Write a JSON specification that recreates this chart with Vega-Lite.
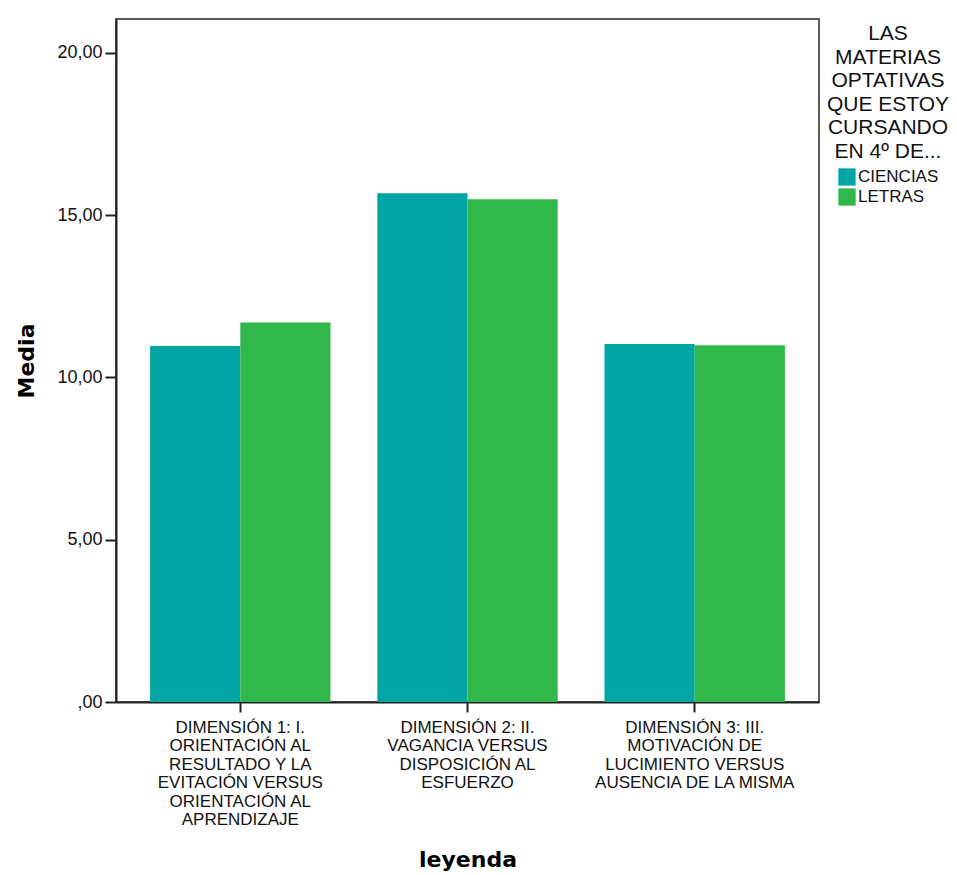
{
  "$schema": "https://vega.github.io/schema/vega-lite/v6.json",
  "width": 703,
  "height": 683,
  "autosize": {"type": "none"},
  "padding": {"left": 116, "top": 19, "right": 138, "bottom": 173},
  "background": "white",
  "config": {
    "view": {"stroke": "#5a5a5a", "strokeWidth": 2},
    "font": "Liberation Sans"
  },
  "data": {
    "values": [
      {"dimension": "DIMENSIÓN 1: I. ORIENTACIÓN AL RESULTADO Y LA EVITACIÓN VERSUS ORIENTACIÓN AL APRENDIZAJE", "grupo": "CIENCIAS", "media": 10.97},
      {"dimension": "DIMENSIÓN 1: I. ORIENTACIÓN AL RESULTADO Y LA EVITACIÓN VERSUS ORIENTACIÓN AL APRENDIZAJE", "grupo": "LETRAS", "media": 11.69},
      {"dimension": "DIMENSIÓN 2: II. VAGANCIA VERSUS DISPOSICIÓN AL ESFUERZO", "grupo": "CIENCIAS", "media": 15.67},
      {"dimension": "DIMENSIÓN 2: II. VAGANCIA VERSUS DISPOSICIÓN AL ESFUERZO", "grupo": "LETRAS", "media": 15.49},
      {"dimension": "DIMENSIÓN 3: III. MOTIVACIÓN DE LUCIMIENTO VERSUS AUSENCIA DE LA MISMA", "grupo": "CIENCIAS", "media": 11.03},
      {"dimension": "DIMENSIÓN 3: III. MOTIVACIÓN DE LUCIMIENTO VERSUS AUSENCIA DE LA MISMA", "grupo": "LETRAS", "media": 10.99}
    ]
  },
  "mark": {"type": "bar"},
  "encoding": {
    "x": {
      "field": "dimension",
      "type": "nominal",
      "sort": null,
      "scale": {"paddingInner": 0.206, "paddingOuter": 0.15},
      "axis": {
        "title": "leyenda",
        "titleFont": "DejaVu Sans",
        "titleFontWeight": "bold",
        "titleFontSize": 22,
        "titleColor": "#000",
        "titlePadding": 22,
        "labelAngle": 0,
        "labelFontSize": 17,
        "labelColor": "#111",
        "labelLineHeight": 18.5,
        "labelLimit": 400,
        "labelPadding": 7,
        "labelExpr": "substring(datum.label, 0, 11) == 'DIMENSIÓN 1' ? ['DIMENSIÓN 1: I.', 'ORIENTACIÓN AL', 'RESULTADO Y LA', 'EVITACIÓN VERSUS', 'ORIENTACIÓN AL', 'APRENDIZAJE'] : substring(datum.label, 0, 11) == 'DIMENSIÓN 2' ? ['DIMENSIÓN 2: II.', 'VAGANCIA VERSUS', 'DISPOSICIÓN AL', 'ESFUERZO'] : ['DIMENSIÓN 3: III.', 'MOTIVACIÓN DE', 'LUCIMIENTO VERSUS', 'AUSENCIA DE LA MISMA']",
        "domainColor": "#222",
        "domainWidth": 2,
        "tickColor": "#222",
        "tickWidth": 2,
        "tickSize": 10
      }
    },
    "xOffset": {
      "field": "grupo",
      "type": "nominal",
      "scale": {"paddingInner": 0, "paddingOuter": 0}
    },
    "y": {
      "field": "media",
      "type": "quantitative",
      "scale": {"domain": [0, 21.04], "nice": false, "zero": true},
      "axis": {
        "title": "Media",
        "titleFont": "DejaVu Sans",
        "titleFontWeight": "bold",
        "titleFontSize": 22,
        "titleColor": "#000",
        "titlePadding": 18,
        "values": [0, 5, 10, 15, 20],
        "labelExpr": "datum.value == 0 ? ',00' : replace(format(datum.value, '.2f'), '.', ',')",
        "labelFontSize": 18,
        "labelColor": "#111",
        "labelPadding": 3,
        "grid": false,
        "domainColor": "#222",
        "domainWidth": 2,
        "tickColor": "#222",
        "tickWidth": 2,
        "tickSize": 11
      }
    },
    "color": {
      "field": "grupo",
      "type": "nominal",
      "scale": {"domain": ["CIENCIAS", "LETRAS"], "range": ["#01a6a4", "#31b84a"]},
      "legend": {
        "title": ["LAS", "MATERIAS", "OPTATIVAS", "QUE ESTOY", "CURSANDO", "EN 4º DE..."],
        "titleFont": "Liberation Sans",
        "titleFontWeight": "normal",
        "titleFontSize": 21,
        "titleLineHeight": 23.6,
        "titleColor": "#111",
        "titleAlign": "center",
        "titleAnchor": "middle",
        "titlePadding": 6,
        "titleLimit": 300,
        "orient": "right",
        "offset": 4,
        "padding": 4,
        "symbolType": "square",
        "symbolSize": 300,
        "symbolStrokeWidth": 0,
        "symbolOpacity": 1,
        "symbolOffset": 0,
        "labelOffset": 2,
        "labelFontSize": 17,
        "labelColor": "#111",
        "rowPadding": 2
      }
    }
  }
}
